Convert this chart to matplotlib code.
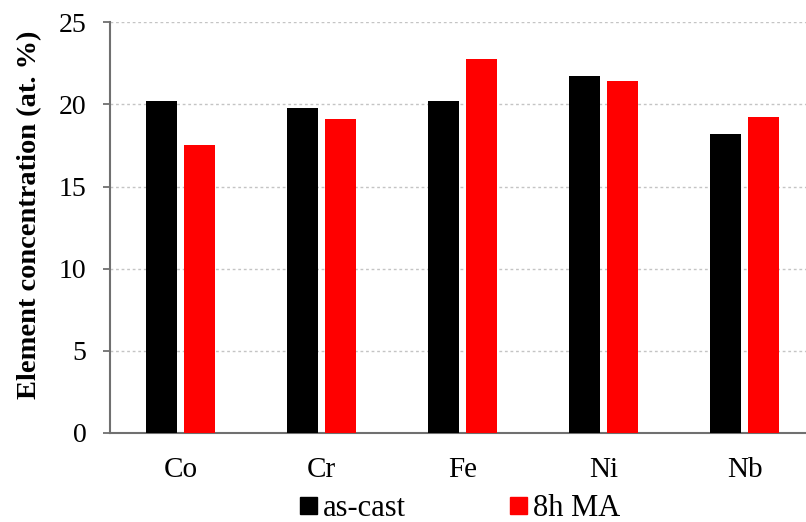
import numpy as np
import matplotlib.pyplot as plt
from matplotlib.patches import Patch

elements = ["Co", "Cr", "Fe", "Ni", "Nb"]
as_cast = [20.2, 19.8, 20.2, 21.7, 18.2]
ma_8h = [17.55, 19.1, 22.75, 21.45, 19.2]

fig = plt.figure(figsize=(8.06, 5.22), dpi=100)
ax = fig.add_axes([0.1365, 0.1705, 0.8747, 0.787])

x = np.arange(len(elements))
w = 0.22
ax.bar(x - 0.138, as_cast, w, color="black", zorder=3)
ax.bar(x + 0.138, ma_8h, w, color="#ff0000", zorder=3)

ax.set_xlim(-0.5, len(elements) - 0.5)
ax.set_ylim(0, 25)
ax.set_yticks([0, 5, 10, 15, 20, 25])
ax.yaxis.grid(True, linestyle=(0, (2, 2)), color="#c4c4c4", linewidth=1.0, zorder=0)
ax.set_xticks(x)
ax.set_xticklabels(elements, fontfamily="Liberation Serif", fontsize=21)
for t in ax.get_yticklabels():
    t.set_fontfamily("Liberation Serif")
    t.set_fontsize(20)
ax.tick_params(axis="x", length=0, pad=17)
ax.tick_params(axis="y", length=5, color="#707070", width=1.3, pad=12)

for s in ["top", "right"]:
    ax.spines[s].set_visible(False)
for s in ["left", "bottom"]:
    ax.spines[s].set_color("#707070")
    ax.spines[s].set_linewidth(1.5)

ax.set_ylabel("Element concentration (at. %)", fontfamily="Liberation Serif",
              fontweight="bold", fontsize=20.5)
ax.yaxis.set_label_coords(-0.097, 0.53)

handles = [Patch(color="black", label="as-cast"), Patch(color="#ff0000", label="8h MA")]
fig.legend(handles=handles, loc="center", bbox_to_anchor=(0.571, 0.025), ncol=2,
           frameon=False, prop={"family": "Liberation Serif", "size": 22},
           handlelength=0.55, handleheight=0.5, handletextpad=0.2, columnspacing=3.4,
           borderpad=0)

fig.savefig("out.png", dpi=100)
